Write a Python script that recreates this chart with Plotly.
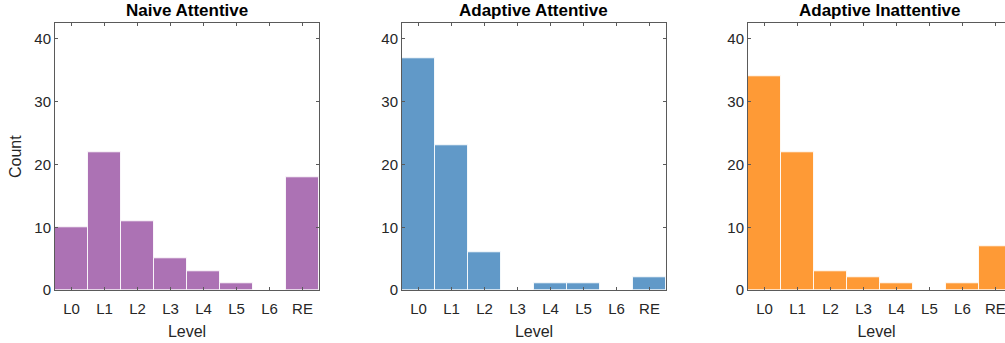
import plotly.graph_objects as go

# Count of participants at each reasoning level, per condition
levels = ["L0", "L1", "L2", "L3", "L4", "L5", "L6", "RE"]
naive_attentive = [10, 22, 11, 5, 3, 1, 0, 18]
adaptive_attentive = [37, 23, 6, 0, 1, 1, 0, 2]
adaptive_inattentive = [34, 22, 3, 2, 1, 0, 1, 7]

titles = ["Naive Attentive", "Adaptive Attentive", "Adaptive Inattentive"]
series = [naive_attentive, adaptive_attentive, adaptive_inattentive]
colors = ["#AC72B4", "#6199C8", "#FE9A36"]

W, H = 1005, 343
x_domains = [(55 / W, 319 / W), (402 / W, 666 / W), (748 / W, 1.0)]
y_domain = (1 - 290 / H, 1 - 23.3 / H)
x_ranges = [[-0.5, 7.5], [-0.5, 7.5], [-0.5, 7.29]]

axis_color = "#5a5a5a"
text_color = "#262626"
font_family = "Liberation Sans, Arial, Helvetica, sans-serif"

fig = go.Figure()
pos = list(range(len(levels)))

for i, (vals, col) in enumerate(zip(series, colors)):
    n = "" if i == 0 else str(i + 1)
    fig.add_trace(go.Bar(
        x=pos, y=vals,
        marker=dict(color=col, line=dict(color="rgba(255,255,255,0.85)", width=1)),
        width=1.0,
        xaxis="x" + n, yaxis="y" + n,
        showlegend=False,
    ))
    fig.layout["xaxis" + n] = dict(
        domain=x_domains[i], range=x_ranges[i], anchor="y" + n,
        tickvals=pos, ticktext=levels,
        ticks="inside", ticklen=3, tickcolor=axis_color,
        showline=True, linecolor=axis_color, linewidth=1,
        mirror="ticks", showgrid=False, zeroline=False,
        automargin=False, ticklabeloverflow="allow", ticklabelstandoff=5,
        tickfont=dict(size=15, color=text_color),
        title=dict(text="Level", font=dict(size=16, color=text_color), standoff=9),
    )
    fig.layout["yaxis" + n] = dict(
        domain=y_domain, range=[0, 42.5], anchor="x" + n,
        tickvals=[0, 10, 20, 30, 40],
        ticks="inside", ticklen=3, tickcolor=axis_color,
        showline=True, linecolor=axis_color, linewidth=1,
        mirror="ticks" if i < 2 else False,
        showgrid=False, zeroline=False, automargin=False,
        tickfont=dict(size=15, color=text_color),
        title=dict(text="Count" if i == 0 else "", font=dict(size=16, color=text_color), standoff=8),
    )
    # panel title centred over each axes box
    full_right = x_domains[i][0] + 264 / W
    fig.add_annotation(
        x=(x_domains[i][0] + full_right) / 2, y=1 - 11 / H,
        xref="paper", yref="paper", xanchor="center", yanchor="middle",
        text="<b>" + titles[i] + "</b>", showarrow=False,
        font=dict(size=17, color="#000000"),
    )

fig.update_layout(
    width=W, height=H,
    margin=dict(l=0, r=0, t=0, b=0),
    paper_bgcolor="white", plot_bgcolor="white",
    bargap=0,
    font=dict(family=font_family, color=text_color),
)

fig.write_html("out.html")
